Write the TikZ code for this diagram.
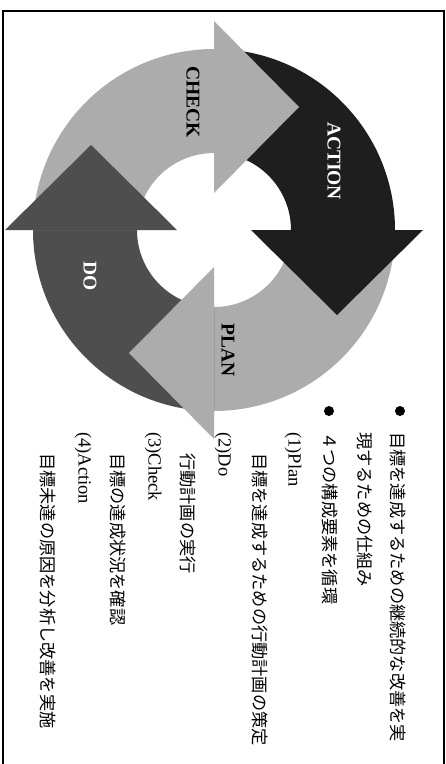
\documentclass[tikz,border=0pt]{standalone}
\usepackage{fontspec}
\setmainfont{Liberation Serif}
\newfontfamily\jpfont{Noto Sans CJK JP}
\definecolor{actcol}{RGB}{30,30,30}
\definecolor{docol}{RGB}{78,78,78}
\definecolor{lightcol}{RGB}{172,172,172}
\tikzset{
  jp/.style={rotate=-90, anchor=west, inner sep=0pt, font=\jpfont\fontsize{17.2}{20}\selectfont},
  lat/.style={rotate=-90, anchor=west, inner sep=0pt, font=\fontsize{18.5}{22}\selectfont},
  lbl/.style={rotate=-90, inner sep=0pt, font=\bfseries\fontsize{19.5}{22}\selectfont},
  bulletdot/.style={circle, fill=black, inner sep=0pt, minimum size=10pt}
}
\begin{document}
\begin{tikzpicture}[x=1pt,y=1pt]
\useasboundingbox (0,0) rectangle (446,-764);
\fill[white] (0,0) rectangle (446,-764);
% frame
\draw[line width=1.3pt] (3,-775) -- (3,-11) -- (444,-11) -- (444,-775);
% cycle
\begin{scope}[shift={(214,-230)}]
  % bodies
  \fill[actcol] (90:181) arc[start angle=90,end angle=0,radius=181] -- (0:77) arc[start angle=0,end angle=90,radius=77] -- cycle;
  \fill[lightcol] (0:181) arc[start angle=0,end angle=-90,radius=181] -- (-90:77) arc[start angle=-90,end angle=0,radius=77] -- cycle;
  \fill[docol] (-90:181) arc[start angle=-90,end angle=-180,radius=181] -- (-180:77) arc[start angle=-180,end angle=-90,radius=77] -- cycle;
  \fill[lightcol] (180:181) arc[start angle=180,end angle=90,radius=181] -- (90:77) arc[start angle=90,end angle=180,radius=77] -- cycle;
  % heads
  \fill[actcol] (37,0) -- (209,0) -- (123,-85) -- cycle;
  \fill[lightcol] (0,-37) -- (0,-209) -- (-85,-123) -- cycle;
  \fill[docol] (-37,0) -- (-209,0) -- (-123,85) -- cycle;
  \fill[lightcol] (0,37) -- (0,209) -- (85,123) -- cycle;
\end{scope}
% cycle labels
\node[lbl, text=black] (check) at (193,-102) {CHECK};
\node[lbl, text=white] (action) at (334,-161) {ACTION};
\node[lbl, text=white] (do) at (90,-276) {DO};
\node[lbl, text=black] (plan) at (228,-350) {PLAN};
% bullets
\node[bulletdot] (b1) at (400,-411) {};
\node[bulletdot] (b2) at (329,-411) {};
% text columns
\node[jp] (t1) at (398,-432) {目標を達成するための継続的な改善を実};
\node[jp] (t2) at (365,-432) {現するための仕組み};
\node[jp] (t3) at (330,-432) {４つの構成要素を循環};
\node[lat] (t4) at (293,-432) {(1)Plan};
\node[jp] (t5) at (260,-453) {目標を達成するための行動計画の策定};
\node[lat] (t6) at (223,-432) {(2)Do};
\node[jp] (t7) at (188,-453) {行動計画の実行};
\node[lat] (t8) at (153,-432) {(3)Check};
\node[jp] (t9) at (118,-453) {目標の達成状況を確認};
\node[lat] (t10) at (83,-432) {(4)Action};
\node[jp] (t11) at (48,-453) {目標未達の原因を分析し改善を実施};
\end{tikzpicture}
\end{document}
